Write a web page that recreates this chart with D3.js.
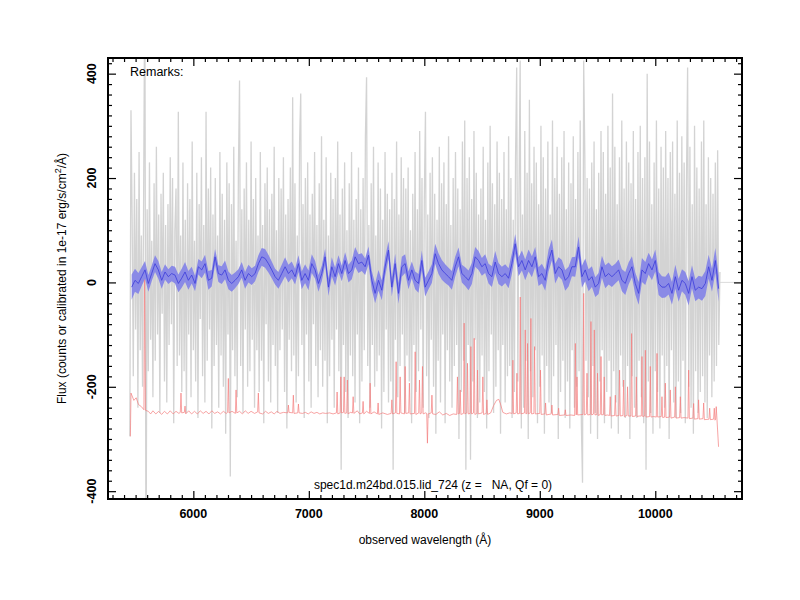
<!DOCTYPE html>
<html>
<head>
<meta charset="utf-8">
<script src="https://cdn.jsdelivr.net/npm/d3@7"></script>
<style>
  body { margin: 0; background: #fff; }
  text { font-family: "Liberation Sans", Arial, Helvetica, sans-serif; }
</style>
</head>
<body>
<svg id="chart" width="800" height="600"></svg>
<script>
// axis tick values
const xMajor = [6000, 7000, 8000, 9000, 10000];
const yMajor = [-400, -200, 0, 200, 400];

// raw 1d spectrum, one value every 10 A from 5450 A
const rawStart = 5450, rawStep = 10;
const rawFlux = [
  -295, 330, 120, -180, 210, -90, 160, -240, 250, -130, 90, -200, 180, 600, -600, 140,
  -170, 230, -110, 80, -220, 190, -150, 260, -100, 130, -250, 170, -60, 210, -190, 110,
  -230, 150, -120, 240, -80, 200, -270, 100, 180, -160, 327, -140, 90, -210, 230, -170,
  120, -250, 190, -100, 160, -220, 270, -130, 80, -190, 210, -260, 150, -70, 240, -180,
  110, -230, 327, -150, 180, -90, 220, -280, 130, -160, 200, -120, 90, -240, 250, -140,
  170, -200, 120, -290, 230, -100, 190, -372, 150, -130, 260, -180, 80, -220, 210, 387,
  -160, 140, -250, 180, -90, 230, -200, 120, -170, 270, -110, 160, -240, 200, -130, 90,
  -210, 250, -150, 110, -270, 190, -80, 220, -190, 140, -230, 170, -120, 260, -160, 100,
  -250, 200, -130, 180, -90, 240, -210, 130, -280, 160, -110, 220, -170, 355, -140, 190,
  -230, 90, -180, 270, 362, -120, 150, -260, 200, -100, 230, -190, 130, -240, 170, -80,
  250, -160, 110, -220, 190, -130, 280, -200, 120, -150, 240, -270, 90, -180, 210, -110,
  160, -240, 200, -90, 270, -170, 130, -359, 180, -120, 230, -210, 100, -260, 190, -140,
  250, -180, 120, -230, 160, -100, 220, -270, 140, -190, 200, -130, 280, 393, -160, 110,
  -240, 190, -120, 260, -200, 90, -170, 230, -140, 180, -280, 120, -210, 250, -90, 170,
  -230, 140, -190, 210, -359, 160, -110, 270, -220, 130, -160, 240, -100, 200, -250, 180,
  -140, 220, -190, 100, -270, 170, -120, 250, -210, 140, -170, 290, -90, 200, -240, 160,
  327, -180, 130, -260, 210, -110, 240, -200, 170, -290, 120, -150, 260, -230, 190, -100,
  230, -270, 150, -130, 280, -190, 110, -240, 200, -160, 250, -120, 180, -300, 140, -210,
  270, -150, 310, -359, 200, -120, 240, -340, 160, -190, 290, -110, 210, -260, 130, -230,
  180, -140, 260, -210, 120, -280, 230, -170, 300, -100, 190, -250, 150, -200, 270, -130,
  210, -290, 160, -120, 250, -230, 140, -180, 280, -160, 200, -260, 120, -210, 240, 412,
  -190, 170, 425, -280, 130, -240, 290, -150, 210, -300, 350, -170, 190, -220, 260, -130,
  230, -270, 150, -200, 300, -140, 240, -290, 180, -160, 270, -230, 130, -250, 310, -180,
  200, -120, 260, -300, 170, -210, 240, -150, 290, -260, 140, -190, 230, -280, 190, -130,
  280, -240, 160, -200, 250, -170, 310, -270, -384, 425, 240, -150, 200, -220, 180, -290,
  230, -160, 270, -250, 140, -300, 210, -190, 290, -130, 250, -270, 170, -210, 300, -150,
  220, -280, 362, -170, 260, -230, 150, -290, 240, -140, 310, -200, 180, -260, 270, -160,
  230, -300, 190, -180, 290, -240, 160, -260, 250, -150, 300, -220, 200, -270, 240, -359,
  400, -190, 270, -250, 150, -290, 230, -170, 310, -210, 180, -280, 260, -140, 220, -240,
  290, -160, 200, -300, 250, -130, 270, -230, 170, -260, 310, -190, 210, -250, 280, -150,
  230, -270, 190, 412, -200, 260, -240, 150, -290, 300, -170, 220, -250, 180, -210, 270,
  -180, 310, -230, 150, -260, 240, -140, 200, -220, 170, -190, 230, -160, 253, -120, 20
];

// smoothed spectrum, one value every 28.88 A from 5466 A
const smoothStart = 5466, smoothStep = 28.88;
const smoothFlux = [
  -9, 4, -2, 11, 24, -2, 17, 36, 24, 4, 20, 11, 17, 14, -2, 8, 20, 4, 14, -2,
  30, 24, 36, 4, 8, 49, 17, 14, 24, 4, -2, 4, 11, 24, 4, 17, 11, 17, 36, 49,
  46, 36, 24, 11, 4, 17, 30, 17, 24, 11, 36, 4, 17, 4, 36, 24, -2, 17, 49, -9,
  30, 11,
  36, 17, 42, 17, 24, 49, 36, 39, 30, 52, 4, -21, 4, -15, 30, 62, -9, 36, -21, 30,
  36, 4, 24, 4, -2, 42, -9, 4, 17, 55, 36, 24, 17, 11, 4, 30, 49, 17, 11, 4,
  17, 49, 42, 30, 36, 17, 11, 39, 17, 11, 17, 8, 36, 74, 30, 42, 24, 42, 30,
  49, 11, 17, 4, 42, 62, 17, 30, 24, 4, 11, 30, 30, 68, 11, 24, 4, 11, -9, -2,
  30, 11, 17, 11, 17, 24, 4, -2, 17, 30, -2, -21, 24, 17, 36, 24, 42, -2, -9, -9,
  -2, -21, 11, -15, 4, -2, -21, 11, -15, -9, -12, -2, 30, 4, 42, -12
];
const smoothErr = [
  24, 22, 20, 18, 17, 16, 15, 16, 17, 16, 15, 14, 15, 16, 17, 18, 19, 18, 16, 15,
  15, 16, 17, 18, 16, 15, 16, 17, 18, 17, 16, 15, 14, 15, 16, 17, 16, 15, 16, 17,
  18, 17, 16, 15, 16, 17, 18, 17, 16, 15, 16, 17, 18, 19, 18, 17, 16, 15, 16, 17,
  18, 17,
  16, 15, 16, 17, 18, 19, 18, 17, 16, 17, 18, 19, 20, 19, 18, 17, 18, 19, 20, 19,
  18, 17, 16, 17, 18, 19, 18, 17, 18, 19, 20, 19, 18, 17, 18, 19, 18, 17, 18, 19,
  20, 19, 18, 17, 18, 19, 20, 21, 20, 19, 18, 19, 20, 19, 18, 19, 20, 21, 20,
  19, 18, 19, 20, 21, 20, 19, 18, 19, 20, 19, 18, 19, 20, 21, 22, 21, 20, 19, 20,
  21, 22, 21, 20, 19, 20, 21, 22, 21, 20, 21, 22, 23, 22, 21, 20, 21, 22, 21, 20,
  21, 22, 23, 22, 21, 22, 23, 22, 21, 22, 23, 24, 23, 22, 24, 25
];

// sky spectrum (offset), [wavelength, flux]
const skyFlux = [
  [5455,-295],[5460,-212],[5485,-226],[5505,-221],[5525,-234],[5550,-238],[5572,-244],[5578,30],[5585,-245],[5610,-247],
  [5630,-252],[5650,-246],[5675,-252],[5700,-247],[5725,-253],[5750,-247],[5775,-252],[5800,-246],[5825,-252],[5850,-247],[5875,-251],
  [5887,-249],[5893,-212],[5899,-250],[5922,-249],[5928,-237],[5934,-252],[5960,-246],[5985,-252],[6010,-247],[6035,-252],[6060,-246],
  [6085,-251],[6110,-247],[6135,-252],[6160,-246],[6185,-251],[6210,-248],[6235,-252],[6260,-247],[6285,-251],
  [6297,-249],[6303,-184],[6309,-250],[6335,-247],[6364,-251],[6370,-206],[6376,-250],[6400,-247],[6425,-252],[6450,-246],[6475,-251],
  [6500,-247],[6530,-251],[6557,-248],[6563,-212],[6569,-250],[6600,-252],[6625,-247],[6650,-251],[6675,-248],[6700,-252],[6725,-247],
  [6750,-251],[6780,-249],[6817,-250],[6823,-235],[6829,-249],[6860,-250],[6866,-216],[6872,-251],[6904,-250],[6910,-233],[6916,-250],
  [6945,-251],[6970,-249],[6995,-252],[7020,-248],[7045,-251],[7070,-249],[7095,-252],[7120,-250],[7145,-251],[7180,-250],[7210,-252],
  [7239,-250],[7245,-210],[7251,-252],[7271,-250],[7277,-181],[7283,-250],[7300,-249],[7306,-181],[7312,-251],[7328,-250],[7334,-187],[7340,-252],
  [7360,-249],[7378,-250],[7384,-219],[7390,-251],[7420,-246],[7440,-252],[7464,-250],[7470,-228],[7476,-252],[7500,-247],[7525,-251],
  [7531,-193],[7537,-252],[7565,-248],[7594,-252],[7600,-231],[7606,-253],[7640,-250],[7680,-253],
  [7713,-251],[7719,-225],[7725,-252],[7750,-250],[7756,-152],[7762,-251],[7785,-252],[7791,-181],[7797,-250],[7828,-252],[7834,-161],
  [7840,-251],[7865,-250],[7871,-193],[7877,-252],[7915,-251],[7921,-133],[7927,-253],[7952,-250],[7958,-187],[7964,-252],[7978,-250],
  [7984,-161],[7990,-252],[8010,-250],[8021,-251],[8027,-308],[8033,-252],[8060,-250],[8066,-216],[8072,-252],
  [8100,-253],[8130,-248],[8160,-254],[8190,-251],[8220,-255],[8250,-252],
  [8281,-253],[8287,-181],[8293,-252],[8305,-251],[8311,-206],[8317,-253],[8339,-251],[8345,-78],[8351,-252],[8368,-250],[8374,-155],
  [8380,-252],[8397,-251],[8403,-123],[8409,-252],[8426,-250],[8432,-107],[8438,-253],[8455,-251],[8461,-168],[8467,-252],[8501,-250],
  [8507,-181],[8513,-253],[8536,-251],[8542,-225],[8548,-253],
  [8575,-250],[8600,-236],[8625,-226],[8645,-224],[8660,-233],[8680,-249],[8710,-252],[8740,-250],
  [8761,-251],[8767,-149],[8773,-252],[8796,-250],[8802,-174],[8808,-252],[8825,-251],[8831,-28],[8837,-252],[8868,-250],[8874,-91],
  [8880,-252],[8888,-251],[8894,-117],[8900,-252],[8917,-250],[8923,-69],[8929,-252],[8949,-251],[8955,-123],[8961,-252],[9000,-251],
  [9006,-168],[9012,-253],[9044,-252],[9050,-231],[9056,-254],[9099,-252],[9105,-235],[9111,-254],[9157,-253],[9163,-241],[9169,-255],
  [9215,-254],[9221,-244],[9227,-255],[9270,-254],
  [9302,-255],[9308,-117],[9314,-254],[9318,-253],[9322,-181],[9328,-254],[9374,-253],[9380,-21],[9386,-254],[9403,-252],[9409,-174],
  [9415,-254],[9437,-253],[9443,-75],[9449,-254],[9466,-252],[9472,-91],[9478,-254],[9494,-253],[9500,-174],[9506,-255],[9524,-253],
  [9530,-142],[9536,-254],[9552,-253],[9558,-181],[9564,-255],[9585,-254],
  [9604,-255],[9610,-219],[9616,-256],[9648,-255],[9654,-216],[9660,-256],[9685,-255],[9691,-168],[9697,-256],[9720,-255],[9726,-187],
  [9732,-257],[9754,-255],[9760,-200],[9766,-256],[9789,-256],[9795,-98],[9801,-257],[9830,-256],[9836,-181],[9842,-257],[9860,-256],
  [9879,-256],[9885,-142],[9891,-257],[9908,-256],[9914,-130],[9920,-258],[9951,-257],[9957,-161],[9963,-258],[9985,-257],[10009,-258],
  [10015,-136],[10021,-258],
  [10052,-257],[10058,-219],[10064,-259],[10081,-258],[10087,-193],[10093,-259],[10124,-258],[10130,-206],[10136,-260],[10168,-258],
  [10174,-200],[10180,-260],[10211,-259],[10217,-219],[10223,-260],[10250,-259],[10283,-260],[10289,-168],[10295,-261],[10326,-260],
  [10332,-232],[10338,-262],[10369,-261],[10375,-225],[10381,-262],[10413,-261],[10419,-231],[10425,-263],[10465,-262],[10471,-241],
  [10477,-263],[10505,-262],[10511,-241],[10517,-264],[10523,-262],[10528,-238],[10548,-315]
];

const svg = d3.select("#chart");
const frame = { left: 108, right: 742, top: 58, bottom: 499 };

const x = d3.scaleLinear().domain([5261, 10751]).range([frame.left, frame.right]);
const y = d3.scaleLinear().domain([-415, 430]).range([frame.bottom, frame.top]);

svg.append("defs").append("clipPath").attr("id", "plotclip")
  .append("rect")
  .attr("x", frame.left).attr("y", frame.top)
  .attr("width", frame.right - frame.left).attr("height", frame.bottom - frame.top);

const plot = svg.append("g").attr("clip-path", "url(#plotclip)");

const raw = rawFlux.map((f, i) => [rawStart + i * rawStep, f]);
const smooth = smoothFlux.map((f, i) => ({ w: smoothStart + i * smoothStep, f: f, e: smoothErr[i] }));

// zero line past the end of the data
const lastW = raw[raw.length - 1][0];
plot.append("line")
  .attr("x1", x(lastW)).attr("x2", x(x.domain()[1]))
  .attr("y1", y(0)).attr("y2", y(0))
  .attr("stroke", "#d3d3d3").attr("stroke-width", 0.8);

// raw spectrum
plot.append("path")
  .datum(raw)
  .attr("fill", "none")
  .attr("stroke", "#d3d3d3")
  .attr("stroke-width", 1.3)
  .attr("stroke-linejoin", "bevel")
  .attr("d", d3.line().x(d => x(d[0])).y(d => y(d[1])));

// sky
plot.append("path")
  .datum(skyFlux)
  .attr("fill", "none")
  .attr("stroke", "#f47c7c")
  .attr("stroke-width", 0.7)
  .attr("d", d3.line().x(d => x(d[0])).y(d => y(d[1])));

// smoothed spectrum with its band
plot.append("path")
  .datum(smooth)
  .attr("fill", "#8a8ae6")
  .attr("d", d3.area().x(d => x(d.w)).y0(d => y(d.f - d.e)).y1(d => y(d.f + d.e)));

plot.append("path")
  .datum(smooth)
  .attr("fill", "none")
  .attr("stroke", "#3b3bdb")
  .attr("stroke-width", 0.8)
  .attr("d", d3.line().x(d => x(d.w)).y(d => y(d.f)));

// ticks, all pointing inward, on all four sides
const xMinor = d3.range(5300, 10751, 100).filter(v => !xMajor.includes(v));
const yMinor = d3.range(-400, 430, 20).filter(v => !yMajor.includes(v));

function tickMarks(axisFn, scale, values, size, transform) {
  const g = svg.append("g")
    .attr("transform", transform)
    .call(axisFn(scale).tickValues(values).tickSize(-size).tickSizeOuter(0).tickFormat(""));
  g.select(".domain").remove();
  g.selectAll("line").attr("stroke", "#000").attr("stroke-width", 1.2);
}
tickMarks(d3.axisBottom, x, xMajor, 8, `translate(0,${frame.bottom})`);
tickMarks(d3.axisBottom, x, xMinor, 4, `translate(0,${frame.bottom})`);
tickMarks(d3.axisTop, x, xMajor, 8, `translate(0,${frame.top})`);
tickMarks(d3.axisTop, x, xMinor, 4, `translate(0,${frame.top})`);
tickMarks(d3.axisLeft, y, yMajor, 8, `translate(${frame.left},0)`);
tickMarks(d3.axisLeft, y, yMinor, 4, `translate(${frame.left},0)`);
tickMarks(d3.axisRight, y, yMajor, 8, `translate(${frame.right},0)`);
tickMarks(d3.axisRight, y, yMinor, 4, `translate(${frame.right},0)`);

svg.append("rect")
  .attr("x", frame.left).attr("y", frame.top)
  .attr("width", frame.right - frame.left).attr("height", frame.bottom - frame.top)
  .attr("fill", "none").attr("stroke", "#000").attr("stroke-width", 2);

// tick labels
svg.append("g").selectAll("text")
  .data(xMajor).join("text")
  .attr("x", d => x(d)).attr("y", frame.bottom + 19)
  .attr("text-anchor", "middle")
  .attr("font-size", 12.5).attr("font-weight", "bold")
  .text(d => d);

svg.append("g").selectAll("text")
  .data(yMajor).join("text")
  .attr("transform", d => `translate(${frame.left - 12},${y(d)}) rotate(-90)`)
  .attr("text-anchor", "middle")
  .attr("font-size", 12.5).attr("font-weight", "bold")
  .text(d => d);

// titles
svg.append("text")
  .attr("x", (frame.left + frame.right) / 2).attr("y", 544)
  .attr("text-anchor", "middle").attr("font-size", 12)
  .text("observed wavelength (Å)");

const yt = svg.append("text")
  .attr("transform", `translate(66,${(frame.top + frame.bottom) / 2}) rotate(-90)`)
  .attr("text-anchor", "middle").attr("font-size", 12);
yt.append("tspan").text("Flux (counts or calibrated in 1e-17 erg/s/cm");
yt.append("tspan").attr("dy", -5).attr("font-size", 9).text("2");
yt.append("tspan").attr("dy", 5).text("/Å)");

svg.append("text")
  .attr("x", 130).attr("y", 76)
  .attr("font-size", 12.5)
  .text("Remarks:");

svg.append("text")
  .attr("x", 433).attr("y", 489)
  .attr("text-anchor", "middle").attr("font-size", 12)
  .style("white-space", "pre")
  .text("spec1d.m24bd.015.lid_724 (z =   NA, Qf = 0)");
</script>
</body>
</html>
